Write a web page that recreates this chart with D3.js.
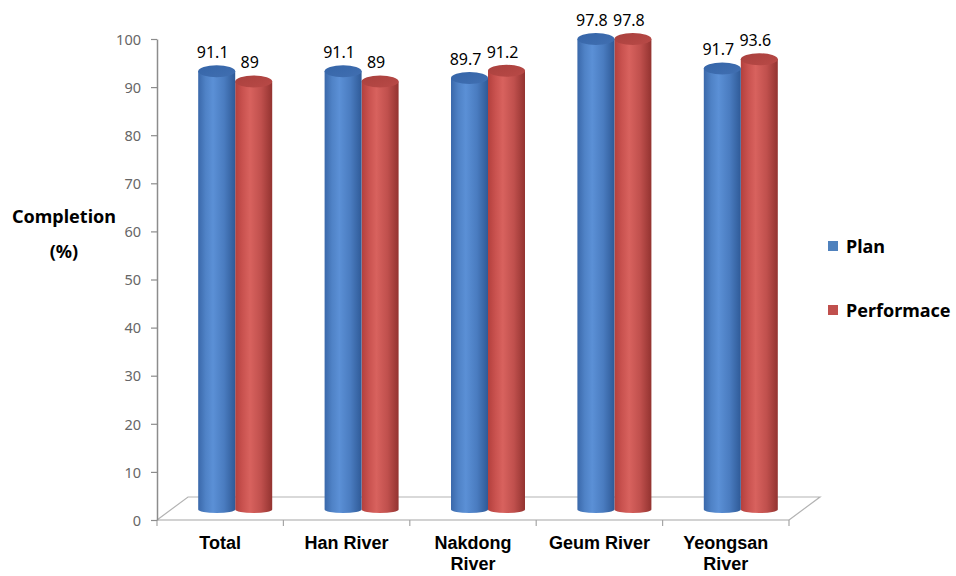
<!DOCTYPE html>
<html>
<head>
<meta charset="utf-8">
<script src="https://cdn.jsdelivr.net/npm/d3@7/dist/d3.min.js"></script>
<style>
  html, body { margin: 0; padding: 0; background: #fff; }
  svg { display: block; }
</style>
</head>
<body>
<svg id="chart" width="956" height="576"></svg>
<script>
// Completion rate by river basin
const categories = [["Total"], ["Han River"], ["Nakdong", "River"], ["Geum River"], ["Yeongsan", "River"]];
const seriesNames = ["Plan", "Performace"];
const planValues = [91.1, 91.1, 89.7, 97.8, 91.7];
const performanceValues = [89, 89, 91.2, 97.8, 93.6];
const yTicks = [0, 10, 20, 30, 40, 50, 60, 70, 80, 90, 100];

const svg = d3.select("#chart");
const defs = svg.append("defs");

// front plane of the 3D box
const x = d3.scaleBand().domain(d3.range(categories.length)).range([157, 789]).paddingInner(0).paddingOuter(0);
const y = d3.scaleLinear().domain([0, 100]).range([520, 39]);
const sub = d3.scaleBand().domain(d3.range(seriesNames.length)).range([0, 74]);
// depth offsets: floor back edge and the plane the cylinders stand in
const backDx = 31, backDy = -23;
const midDx = 15, midDy = -10.5;

const palette = [
  { body: ["#3a68aa", "#4f82c6", "#5b90d6", "#4a7cc0", "#2f5a97"], top: ["#3565a8", "#416fb1"], key: "#4f81bd" },
  { body: ["#b3403d", "#c9524f", "#d8625e", "#c0504d", "#933330"], top: ["#a9403d", "#b94a47"], key: "#c0504d" }
];
palette.forEach((p, i) => {
  const g = defs.append("linearGradient").attr("id", "body" + i).attr("x1", 0).attr("x2", 1).attr("y1", 0).attr("y2", 0);
  [0, 0.2, 0.4, 0.7, 1].forEach((o, k) => g.append("stop").attr("offset", o).attr("stop-color", p.body[k]));
  const t = defs.append("linearGradient").attr("id", "top" + i).attr("x1", 0).attr("x2", 1).attr("y1", 0).attr("y2", 1);
  t.append("stop").attr("offset", 0).attr("stop-color", p.top[0]);
  t.append("stop").attr("offset", 1).attr("stop-color", p.top[1]);
});

// floor
const x0 = x.range()[0], x1 = x.range()[1], yf = y(0);
svg.append("path")
  .attr("d", `M${x0},${yf} L${x0 + backDx},${yf + backDy} L${x1 + backDx},${yf + backDy} L${x1},${yf}`)
  .attr("fill", "none").attr("stroke", "#b3b3b3").attr("stroke-width", 1.2);

// category axis (front edge with ticks between categories)
const catAxis = svg.append("g");
catAxis.append("line").attr("x1", x0).attr("x2", x1).attr("y1", yf).attr("y2", yf)
  .attr("stroke", "#a6a6a6").attr("stroke-width", 1.2);
catAxis.selectAll("line.tick").data(d3.range(categories.length + 1)).join("line")
  .attr("class", "tick")
  .attr("x1", i => x0 + i * x.bandwidth()).attr("x2", i => x0 + i * x.bandwidth())
  .attr("y1", yf).attr("y2", yf + 6)
  .attr("stroke", "#a6a6a6").attr("stroke-width", 1.2);

const catLabels = catAxis.selectAll("text").data(categories).join("text")
  .attr("x", (d, i) => x(i) + x.bandwidth() / 2)
  .attr("y", 549)
  .attr("text-anchor", "middle")
  .attr("font-family", "Liberation Sans, Arial, sans-serif")
  .attr("font-weight", "bold")
  .attr("font-size", 18)
  .attr("fill", "#000");
catLabels.selectAll("tspan").data(d => d).join("tspan")
  .attr("x", function () { return d3.select(this.parentNode).attr("x"); })
  .attr("dy", (d, j) => j === 0 ? 0 : 21)
  .text(d => d);

// value axis
const yAxis = svg.append("g").attr("transform", `translate(${x0},0)`)
  .call(d3.axisLeft(y).tickValues(yTicks).tickSize(6).tickSizeOuter(0).tickPadding(10));
yAxis.select(".domain").attr("stroke", "#8c8c8c").attr("stroke-width", 1.5);
yAxis.selectAll(".tick line").attr("stroke", "#8c8c8c").attr("stroke-width", 1.2);
yAxis.selectAll(".tick text")
  .attr("font-family", "Noto Sans, sans-serif")
  .attr("font-size", 14.5)
  .attr("fill", "#666")
  .attr("dy", "0.36em");

// axis title
const title = svg.append("text")
  .attr("text-anchor", "middle")
  .attr("font-family", "Noto Sans, sans-serif")
  .attr("font-weight", "bold")
  .attr("font-size", 18)
  .attr("fill", "#000");
title.append("tspan").attr("x", 64).attr("y", 223).text("Completion");
title.append("tspan").attr("x", 64).attr("y", 258).text("(%)");

// cylinders
const rows = categories.map((c, i) => [
  { s: 1, v: performanceValues[i], i },
  { s: 0, v: planValues[i], i }
]).flat();

const topRy = 6, botRy = 3.5;
const bars = svg.append("g").selectAll("g").data(rows).join("g");
bars.each(function (d) {
  const g = d3.select(this);
  const left = x(d.i) + (x.bandwidth() - sub.range()[1]) / 2 + sub(d.s) + midDx;
  const w = sub.bandwidth();
  const rx = w / 2;
  const cx = left + rx;
  const yt = y(d.v) + midDy;
  const yb = y(0) + midDy;
  g.append("path")
    .attr("d", `M${left},${yt} L${left},${yb} A${rx},${botRy} 0 0 0 ${left + w},${yb} L${left + w},${yt} Z`)
    .attr("fill", `url(#body${d.s})`);
  g.append("ellipse")
    .attr("cx", cx).attr("cy", yt).attr("rx", rx).attr("ry", topRy)
    .attr("fill", `url(#top${d.s})`);
  d.cx = cx; d.yt = yt;
});

// value labels
svg.append("g").selectAll("text").data(rows).join("text")
  .attr("x", d => d.cx - 4)
  .attr("y", d => d.yt - 13)
  .attr("text-anchor", "middle")
  .attr("font-family", "Noto Sans, sans-serif")
  .attr("font-size", 16)
  .attr("fill", "#000")
  .text(d => d.v);

// legend
const legend = svg.append("g").selectAll("g").data(seriesNames).join("g")
  .attr("transform", (d, i) => `translate(828,${241 + i * 64})`);
legend.append("rect").attr("width", 10).attr("height", 10).attr("fill", (d, i) => palette[i].key);
legend.append("text")
  .attr("x", 18).attr("y", 12)
  .attr("font-family", "Noto Sans, sans-serif")
  .attr("font-weight", "bold")
  .attr("font-size", 18)
  .attr("fill", "#000")
  .text(d => d);
</script>
</body>
</html>
